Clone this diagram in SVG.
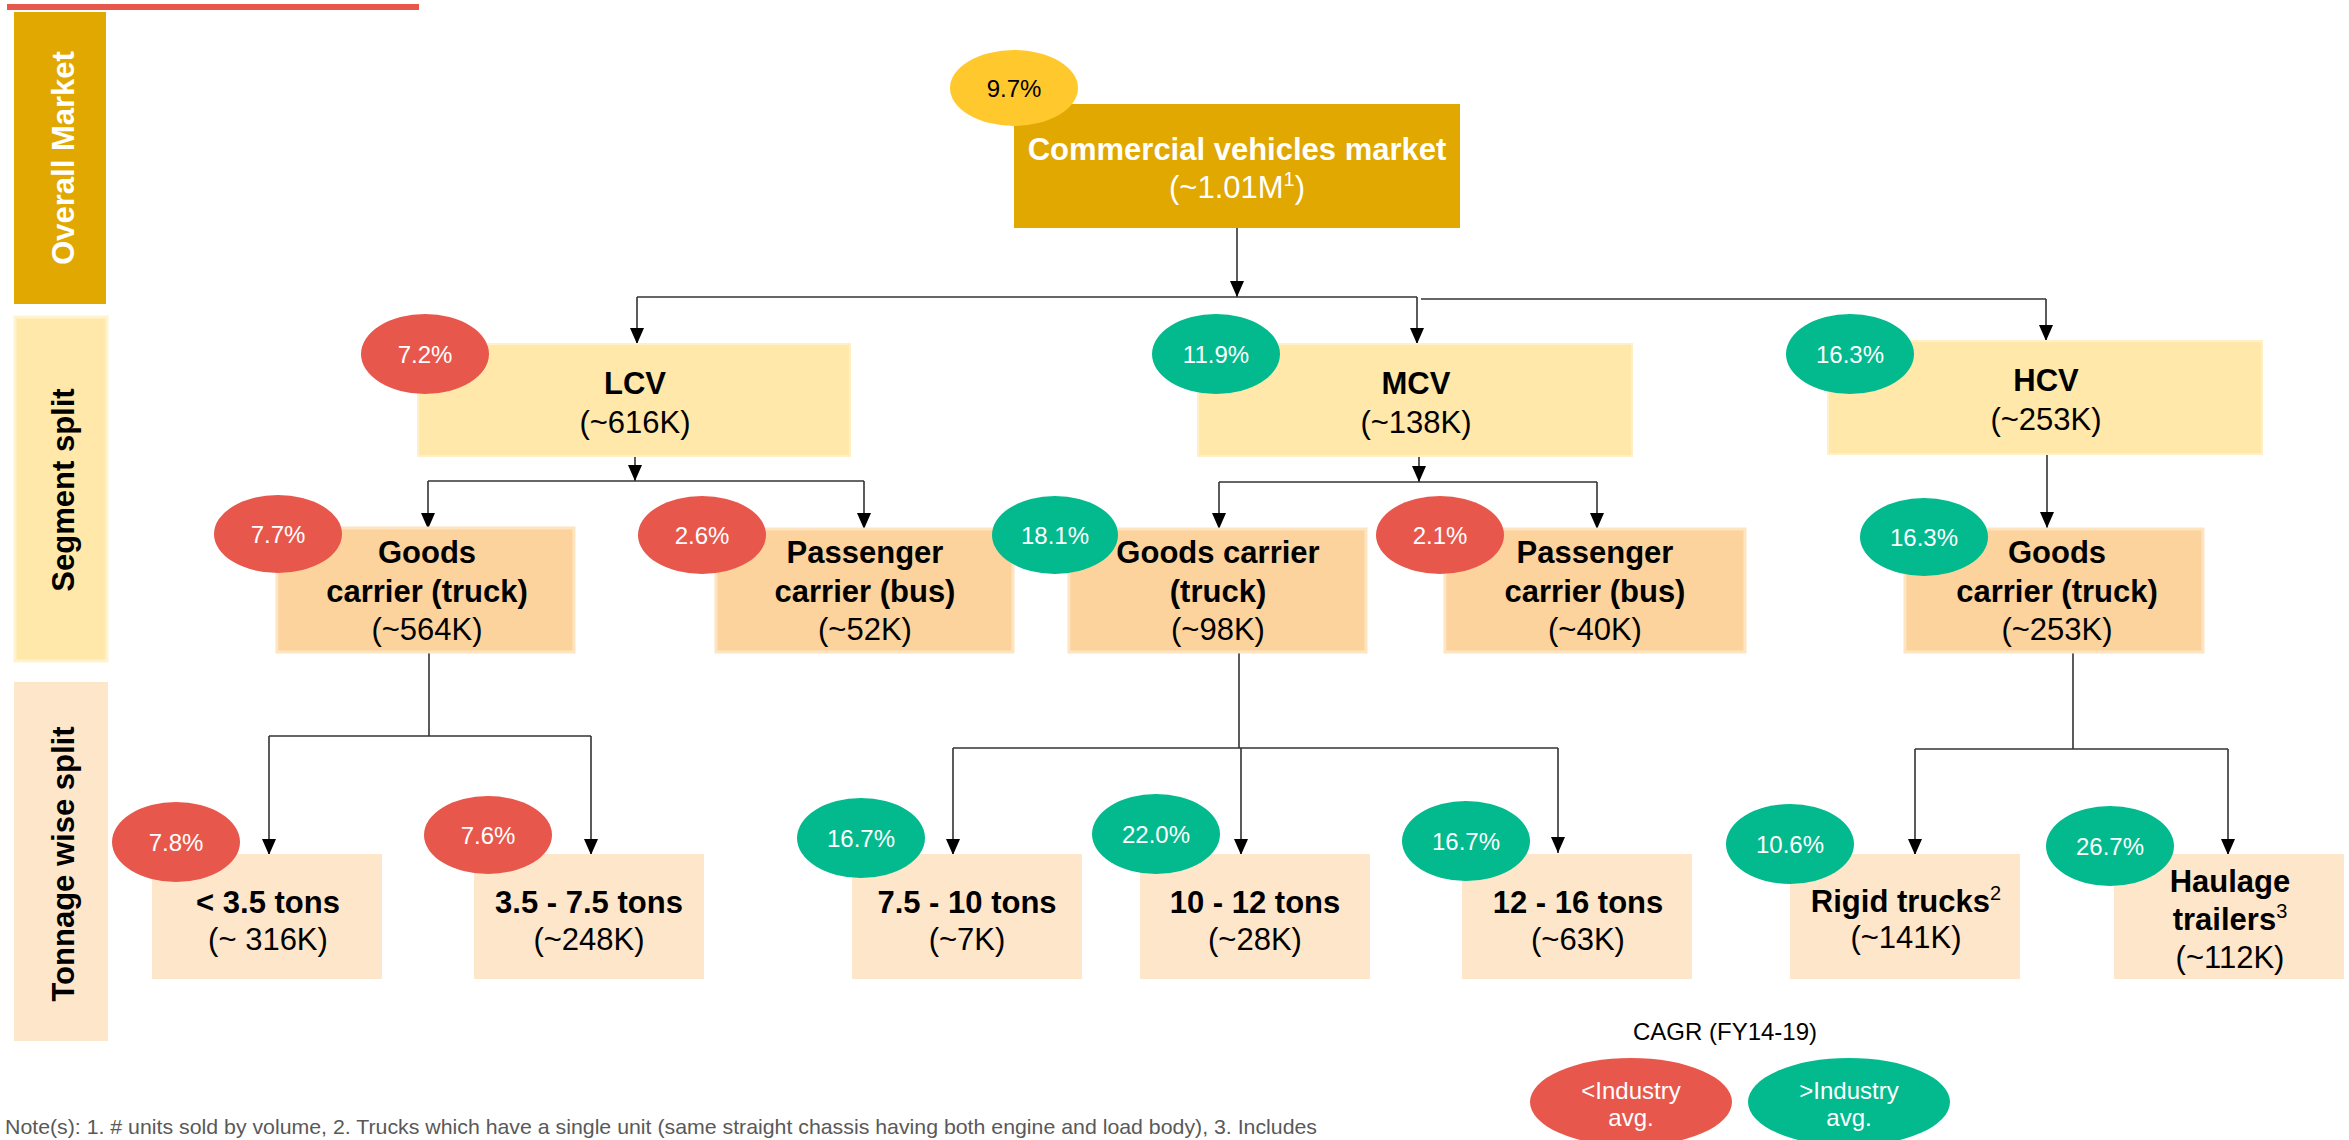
<svg xmlns="http://www.w3.org/2000/svg" width="2349" height="1140" viewBox="0 0 2349 1140">
<defs>
<style>
text{font-family:"Liberation Sans",Arial,Helvetica,sans-serif}
.gold{fill:#E0A800}
.l1{fill:#FFE8A9;stroke:#FFF0C8;stroke-width:2}
.l2{fill:#FCD39C;stroke:#FFE4C2;stroke-width:3}
.l3{fill:#FEE6CA}
.b{font-weight:bold;font-size:31px;fill:#000;text-anchor:middle}
.r{font-size:31px;fill:#000;text-anchor:middle}
.w{fill:#fff}
.pct{font-size:24px;fill:#fff;text-anchor:middle}
.red{fill:#E8574C}
.grn{fill:#02BA8E}
.yel{fill:#FFC82D}
.conn{stroke:#333;stroke-width:1.6;fill:none}
.arr{marker-end:url(#ah)}
.side{font-weight:bold;font-size:31px;text-anchor:middle}
</style>
<marker id="ah" viewBox="0 0 16 14" refX="16" refY="7" markerWidth="16" markerHeight="14" orient="auto" markerUnits="userSpaceOnUse">
<path d="M0,0 L16,7 L0,14 z" fill="#000"/>
</marker>
</defs>
<rect x="0" y="0" width="2349" height="1140" fill="#fff"/>
<rect x="7" y="4" width="412" height="6" fill="#E8574C"/>

<g id="label-overall">
<rect x="14" y="12" width="92" height="292" class="gold"/>
<text class="side" fill="#fff" transform="translate(74,158) rotate(-90)">Overall Market</text>
</g>
<g id="label-segment">
<rect x="15" y="317" width="92" height="344" fill="#FFE8A9" stroke="#FFF3CF" stroke-width="3"/>
<text class="side" fill="#000" transform="translate(74,490) rotate(-90)">Segment split</text>
</g>
<g id="label-tonnage">
<rect x="14" y="682" width="94" height="359" fill="#FEE6CA"/>
<text class="side" fill="#000" transform="translate(74,864) rotate(-90)">Tonnage wise split</text>
</g>

<g id="connectors">
<path class="conn arr" d="M1237,223 V297"/>
<path class="conn" d="M637,297 H1417"/>
<path class="conn" d="M1421,299 H2046"/>
<path class="conn arr" d="M637,297 V344"/>
<path class="conn arr" d="M1417,297 V344"/>
<path class="conn arr" d="M2046,299 V341"/>

<path class="conn arr" d="M635,456 V481"/>
<path class="conn" d="M428,481 H864"/>
<path class="conn arr" d="M428,481 V529"/>
<path class="conn arr" d="M864,481 V529"/>

<path class="conn arr" d="M1419,456 V482"/>
<path class="conn" d="M1219,482 H1597"/>
<path class="conn arr" d="M1219,482 V529"/>
<path class="conn arr" d="M1597,482 V529"/>

<path class="conn arr" d="M2047,454 V528"/>

<path class="conn" d="M429,652 V736"/>
<path class="conn" d="M269,736 H591"/>
<path class="conn arr" d="M269,736 V855"/>
<path class="conn arr" d="M591,736 V855"/>

<path class="conn" d="M1239,652 V748"/>
<path class="conn" d="M953,748 H1558"/>
<path class="conn arr" d="M953,748 V855"/>
<path class="conn arr" d="M1241,748 V855"/>
<path class="conn arr" d="M1558,748 V853"/>

<path class="conn" d="M2073,652 V749"/>
<path class="conn" d="M1915,749 H2228"/>
<path class="conn arr" d="M1915,749 V855"/>
<path class="conn arr" d="M2228,749 V855"/>
</g>

<g id="node-cv">
<rect x="1014" y="104" width="446" height="124" class="gold"/>
<text class="b w" x="1237" y="160">Commercial vehicles market</text>
<text class="r w" x="1237" y="198">(~1.01M<tspan font-size="20" dy="-12">1</tspan><tspan dy="12">)</tspan></text>
<ellipse cx="1014" cy="88" rx="64" ry="38" class="yel"/>
<text class="pct" x="1014" y="97" fill="#000" style="fill:#000">9.7%</text>
</g>

<g id="node-lcv">
<rect x="418" y="344" width="432" height="112" class="l1"/>
<text class="b" x="635" y="394">LCV</text>
<text class="r" x="635" y="433">(~616K)</text>
<ellipse cx="425" cy="354" rx="64" ry="40" class="red"/>
<text class="pct" x="425" y="363">7.2%</text>
</g>

<g id="node-mcv">
<rect x="1198" y="344" width="434" height="112" class="l1"/>
<text class="b" x="1416" y="394">MCV</text>
<text class="r" x="1416" y="433">(~138K)</text>
<ellipse cx="1216" cy="354" rx="64" ry="40" class="grn"/>
<text class="pct" x="1216" y="363">11.9%</text>
</g>

<g id="node-hcv">
<rect x="1828" y="341" width="434" height="113" class="l1"/>
<text class="b" x="2046" y="391">HCV</text>
<text class="r" x="2046" y="430">(~253K)</text>
<ellipse cx="1850" cy="354" rx="64" ry="40" class="grn"/>
<text class="pct" x="1850" y="363">16.3%</text>
</g>

<g id="node-lcv-goods">
<rect x="277" y="528" width="297" height="124" class="l2"/>
<text class="b" x="427" y="563">Goods</text>
<text class="b" x="427" y="602">carrier (truck)</text>
<text class="r" x="427" y="640">(~564K)</text>
<ellipse cx="278" cy="534" rx="64" ry="39" class="red"/>
<text class="pct" x="278" y="543">7.7%</text>
</g>

<g id="node-lcv-pass">
<rect x="716" y="529" width="297" height="123" class="l2"/>
<text class="b" x="865" y="563">Passenger</text>
<text class="b" x="865" y="602">carrier (bus)</text>
<text class="r" x="865" y="640">(~52K)</text>
<ellipse cx="702" cy="535" rx="64" ry="39" class="red"/>
<text class="pct" x="702" y="544">2.6%</text>
</g>

<g id="node-mcv-goods">
<rect x="1069" y="529" width="297" height="123" class="l2"/>
<text class="b" x="1218" y="563">Goods carrier</text>
<text class="b" x="1218" y="602">(truck)</text>
<text class="r" x="1218" y="640">(~98K)</text>
<ellipse cx="1055" cy="535" rx="63" ry="39" class="grn"/>
<text class="pct" x="1055" y="544">18.1%</text>
</g>

<g id="node-mcv-pass">
<rect x="1445" y="529" width="300" height="123" class="l2"/>
<text class="b" x="1595" y="563">Passenger</text>
<text class="b" x="1595" y="602">carrier (bus)</text>
<text class="r" x="1595" y="640">(~40K)</text>
<ellipse cx="1440" cy="535" rx="64" ry="39" class="red"/>
<text class="pct" x="1440" y="544">2.1%</text>
</g>

<g id="node-hcv-goods">
<rect x="1905" y="529" width="298" height="123" class="l2"/>
<text class="b" x="2057" y="563">Goods</text>
<text class="b" x="2057" y="602">carrier (truck)</text>
<text class="r" x="2057" y="640">(~253K)</text>
<ellipse cx="1924" cy="537" rx="64" ry="39" class="grn"/>
<text class="pct" x="1924" y="546">16.3%</text>
</g>

<g id="node-t1">
<rect x="152" y="854" width="230" height="125" class="l3"/>
<text class="b" x="268" y="913">&lt; 3.5 tons</text>
<text class="r" x="268" y="950">(~ 316K)</text>
<ellipse cx="176" cy="842" rx="64" ry="40" class="red"/>
<text class="pct" x="176" y="851">7.8%</text>
</g>

<g id="node-t2">
<rect x="474" y="854" width="230" height="125" class="l3"/>
<text class="b" x="589" y="913">3.5 - 7.5 tons</text>
<text class="r" x="589" y="950">(~248K)</text>
<ellipse cx="488" cy="835" rx="64" ry="39" class="red"/>
<text class="pct" x="488" y="844">7.6%</text>
</g>

<g id="node-t3">
<rect x="852" y="854" width="230" height="125" class="l3"/>
<text class="b" x="967" y="913">7.5 - 10 tons</text>
<text class="r" x="967" y="950">(~7K)</text>
<ellipse cx="861" cy="838" rx="64" ry="40" class="grn"/>
<text class="pct" x="861" y="847">16.7%</text>
</g>

<g id="node-t4">
<rect x="1140" y="854" width="230" height="125" class="l3"/>
<text class="b" x="1255" y="913">10 - 12 tons</text>
<text class="r" x="1255" y="950">(~28K)</text>
<ellipse cx="1156" cy="834" rx="64" ry="40" class="grn"/>
<text class="pct" x="1156" y="843">22.0%</text>
</g>

<g id="node-t5">
<rect x="1462" y="854" width="230" height="125" class="l3"/>
<text class="b" x="1578" y="913">12 - 16 tons</text>
<text class="r" x="1578" y="950">(~63K)</text>
<ellipse cx="1466" cy="841" rx="64" ry="40" class="grn"/>
<text class="pct" x="1466" y="850">16.7%</text>
</g>

<g id="node-t6">
<rect x="1790" y="854" width="230" height="125" class="l3"/>
<text class="b" x="1906" y="912">Rigid trucks<tspan font-size="20" font-weight="normal" dy="-12">2</tspan></text>
<text class="r" x="1906" y="948">(~141K)</text>
<ellipse cx="1790" cy="844" rx="64" ry="40" class="grn"/>
<text class="pct" x="1790" y="853">10.6%</text>
</g>

<g id="node-t7">
<rect x="2114" y="854" width="230" height="125" class="l3"/>
<text class="b" x="2230" y="892">Haulage</text>
<text class="b" x="2230" y="930">trailers<tspan font-size="20" font-weight="normal" dy="-12">3</tspan></text>
<text class="r" x="2230" y="968">(~112K)</text>
<ellipse cx="2110" cy="846" rx="64" ry="40" class="grn"/>
<text class="pct" x="2110" y="855">26.7%</text>
</g>

<g id="legend">
<text x="1725" y="1040" font-size="24" fill="#000" text-anchor="middle">CAGR (FY14-19)</text>
<ellipse cx="1631" cy="1102" rx="101" ry="44" class="red"/>
<text class="pct" x="1631" y="1099">&lt;Industry</text>
<text class="pct" x="1631" y="1126">avg.</text>
<ellipse cx="1849" cy="1102" rx="101" ry="44" class="grn"/>
<text class="pct" x="1849" y="1099">&gt;Industry</text>
<text class="pct" x="1849" y="1126">avg.</text>
</g>

<text x="5" y="1134" font-size="21" fill="#595959" textLength="1312" lengthAdjust="spacingAndGlyphs">Note(s): 1. # units sold by volume, 2. Trucks which have a single unit (same straight chassis having both engine and load body), 3. Includes</text>
</svg>
